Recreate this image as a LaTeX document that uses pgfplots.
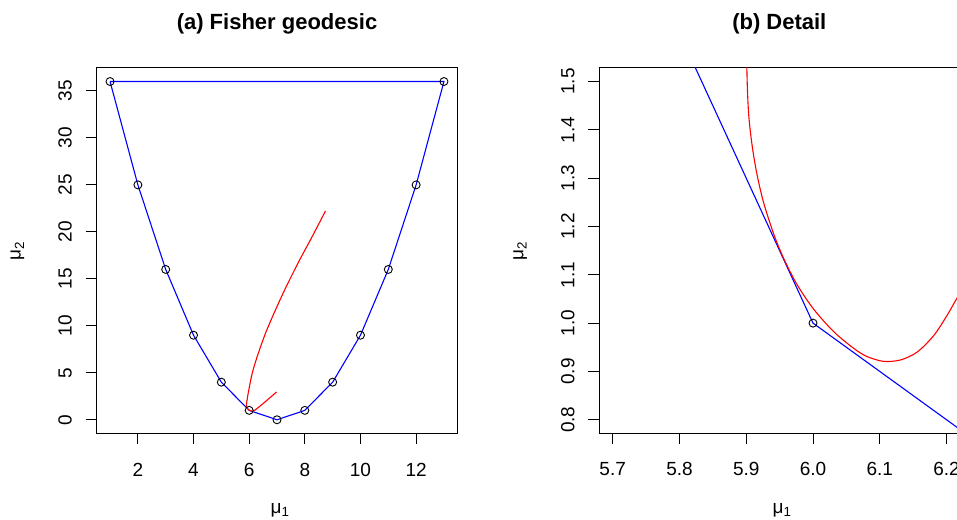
\documentclass[border=0pt]{standalone}
\usepackage{pgfplots}
\pgfplotsset{compat=1.18}
\usepackage{pgfplotstable}
\usepackage{fontspec}
\setmainfont{Liberation Sans}

% polygon of the 13 points, closed by the top chord
\pgfplotstableread{
x y
1 36
2 25
3 16
4 9
5 4
6 1
7 0
8 1
9 4
10 9
11 16
12 25
13 36
1 36
}\pathdata

\pgfplotstableread{
x y
1 36
2 25
3 16
4 9
5 4
6 1
7 0
8 1
9 4
10 9
11 16
12 25
13 36
}\pointdata

% red geodesic
\pgfplotstableread{
x y
8.743 22.23
8.265 19.50
7.784 16.84
7.306 14.01
6.947 11.70
6.588 9.22
6.289 6.73
6.110 4.96
5.987 3.19
5.946 2.50
5.919 2.00
5.908 1.75
5.902 1.62
5.901 1.527
5.9034 1.437
5.9085 1.3707
5.916 1.3085
5.926 1.2495
5.941 1.185
5.956 1.134
5.976 1.080
6.001 1.0288
6.031 0.9823
6.061 0.9478
6.081 0.9308
6.106 0.9208
6.131 0.9238
6.156 0.9401
6.181 0.9746
6.201 1.0166
6.216 1.0526
6.250 1.131
6.350 1.366
6.500 1.729
6.700 2.229
6.983 2.957
}\reddata

\pgfplotsset{
  rpanel/.style={
    scale only axis, width=360.6pt, height=365.3pt, anchor=south west,
    axis line style={black, line width=1pt},
    tick pos=left, tick align=outside, major tick length=11pt,
    every tick/.style={black, line width=1pt},
    ticklabel style={font=\fontsize{19}{22}\selectfont, inner sep=0pt, outer sep=0pt},
    xticklabel style={anchor=base},
    yticklabel style={rotate=90, anchor=base},
    xticklabel shift=31.7pt, yticklabel shift=14pt,
    /pgf/number format/assume math mode=true,
  }
}

\begin{document}
\begin{tikzpicture}
\begin{axis}[rpanel, at={(96.7pt,85.7pt)},
    xmin=0.52, xmax=13.48, ymin=-1.44, ymax=37.44,
    xtick={2,4,...,12}, ytick={0,5,...,35}]
  \addplot[blue, line width=1.1pt] table {\pathdata};
  \addplot[red, line width=1.1pt, smooth, tension=0.5] table {\reddata};
  \addplot[only marks, mark=o, mark size=4pt, mark options={black, line width=0.9pt}] table {\pointdata};
\end{axis}

% detail: only the points near (6,1) are kept, far ones overflow TeX dimensions
\begin{axis}[rpanel, at={(599.3pt,85.7pt)},
    xmin=5.68, xmax=6.22, ymin=0.772, ymax=1.528,
    restrict x to domain=3:9, restrict y to domain=-1:10,
    xtick={5.7,5.8,5.9,6.0,6.1,6.2},
    ytick={0.8,0.9,1.0,1.1,1.2,1.3,1.4,1.5},
    /pgf/number format/fixed, /pgf/number format/fixed zerofill,
    /pgf/number format/precision=1]
  \addplot[blue, line width=1.1pt] table {\pathdata};
  \addplot[red, line width=1.1pt, smooth, tension=0.5] table {\reddata};
  \addplot[only marks, mark=o, mark size=4pt, mark options={black, line width=0.9pt}] table {\pointdata};
\end{axis}

\node[anchor=base, font=\bfseries\fontsize{22}{26}\selectfont] at (277pt,489pt) {(a) Fisher geodesic};
\node[anchor=base, font=\bfseries\fontsize{22}{26}\selectfont] at (779.3pt,489pt) {(b) Detail};
\node[anchor=base, font=\fontsize{19}{22}\selectfont] at (280pt,6pt) {μ\textsubscript{1}};
\node[anchor=base, font=\fontsize{19}{22}\selectfont] at (782pt,6pt) {μ\textsubscript{1}};
\node[rotate=90, anchor=base, font=\fontsize{19}{22}\selectfont] at (20.7pt,268.3pt) {μ\textsubscript{2}};
\node[rotate=90, anchor=base, font=\fontsize{19}{22}\selectfont] at (523.3pt,268.3pt) {μ\textsubscript{2}};

\pgfresetboundingbox
\useasboundingbox (0pt,0pt) rectangle (957pt,519pt);
\end{tikzpicture}
\end{document}
